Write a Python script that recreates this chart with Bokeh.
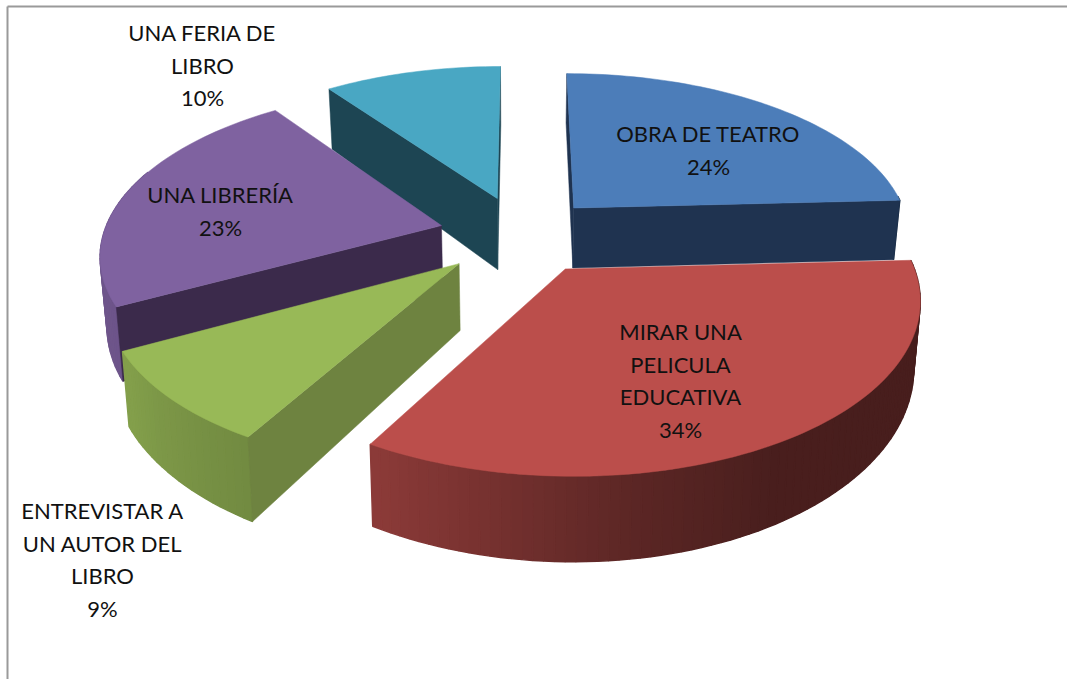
import numpy as np
from bokeh.plotting import figure
from bokeh.models import ColumnDataSource
from bokeh.core.properties import value
from bokeh.embed import file_html
from bokeh.resources import INLINE

# ---- data -----------------------------------------------------------------
categories = ["OBRA DE TEATRO", "MIRAR UNA PELICULA EDUCATIVA",
              "ENTREVISTAR A UN AUTOR DEL LIBRO", "UNA LIBRERÍA", "UNA FERIA DE LIBRO"]
label_lines = [["OBRA DE TEATRO"], ["MIRAR UNA", "PELICULA", "EDUCATIVA"],
               ["ENTREVISTAR A", "UN AUTOR DEL", "LIBRO"], ["UNA LIBRERÍA"], ["UNA FERIA DE", "LIBRO"]]
values = [24.2, 34.1, 8.9, 22.8, 10.0]

# ---- styles ---------------------------------------------------------------
top_colors = ["#4c7db9", "#bb4e4b", "#98b957", "#7f62a0", "#49a7c3"]
cut_colors = ["#1f3350", "#4a1c1a", "#6e8340", "#3b2a4b", "#1d4553"]
explode = [0.23, 0.24, 0.25, 0.245, 0.24]
depth_mult = [1.0, 0.99, 1.03, 1.08, 1.2]
label_pos = [(708, 133), (680, 331), (102, 510), (220, 194), (202, 32)]
draw_order = [4, 0, 3, 2, 1]

CX, CY, A, B, K = 521.0, 234.0, 163.0, 338.0, 0.156
DZ, KZ, CONV = 62.3, 0.231, 0.0165


def project(X, Y):
    d = 1 + K * Y
    return CX + B * X / d, CY - A * Y / d


def lower(X, Y, x, y, mult):
    """The same rim point at the bottom of the slab."""
    return x - (x - CX) * CONV, y + mult * DZ / (1 + KZ * Y)


def shade(hex_color, f):
    rgb = [int(hex_color[i:i + 2], 16) for i in (1, 3, 5)]
    return "#%02x%02x%02x" % tuple(int(round(c * f)) for c in rgb)


def clockwise(px, py):
    return sum(px[k] * py[(k + 1) % 4] - px[(k + 1) % 4] * py[k] for k in range(4)) > 0


total = sum(values)
edges = np.cumsum([0] + values) / total * 360.0

xs, ys, fills, widths = [], [], [], []


def add(px, py, color, w=0.5):
    xs.append(list(map(float, px)))
    ys.append(list(map(float, py)))
    fills.append(color)
    widths.append(w)


for i in draw_order:
    a0, a1 = edges[i], edges[i + 1]
    mid = np.radians((a0 + a1) / 2)
    ox, oy = explode[i] * np.sin(mid), explode[i] * np.cos(mid)
    th = np.radians(np.linspace(a0, a1, max(int((a1 - a0) / 1.5), 4) + 1))
    WX, WY = ox + np.sin(th), oy + np.cos(th)
    tx, ty = project(WX, WY)
    bx, by = lower(WX, WY, tx, ty, depth_mult[i])
    ax, ay = project(ox, oy)
    abx, aby = lower(ox, oy, ax, ay, depth_mult[i])
    # rim strips on the near side, shaded by direction of the light
    for j in range(len(th) - 1):
        deg = np.degrees((th[j] + th[j + 1]) / 2)
        if deg < 85 or deg > 290:
            continue
        f = np.interp(deg, [100, 150, 170, 190, 208, 240, 300], [.38, .39, .48, .62, .74, .86, .88])
        add([tx[j], tx[j + 1], bx[j + 1], bx[j]], [ty[j], ty[j + 1], by[j + 1], by[j]],
            shade(top_colors[i], f), 1.4)
    # the cut faces that look towards the viewer
    sx, sy = [ax, tx[0], bx[0], abx], [ay, ty[0], by[0], aby]
    ex, ey = [ax, tx[-1], bx[-1], abx], [ay, ty[-1], by[-1], aby]
    if not clockwise(sx, sy):
        add(sx, sy, cut_colors[i])
    if clockwise(ex, ey):
        add(ex, ey, cut_colors[i])
    # top face
    add([ax, *tx], [ay, *ty], top_colors[i])

p = figure(width=1067, height=679, x_range=(0, 1067), y_range=(679, 0),
           toolbar_location=None, output_backend="svg", min_border=0,
           background_fill_color="white",
           border_fill_color="white", outline_line_color=None)
p.axis.visible = False
p.grid.visible = False

p.patches("xs", "ys", source=ColumnDataSource(dict(xs=xs, ys=ys, c=fills, w=widths)),
          fill_color="c", line_color="c", line_width="w")

# frame of the chart area
p.line([7, 7], [6, 679], line_color="#9a9a9a", line_width=2)
p.line([7, 1067], [6, 6], line_color="#9a9a9a", line_width=2)

tx_, ty_, tt_ = [], [], []
for (cx, cy), lines, v in zip(label_pos, label_lines, values):
    for n, t in enumerate(lines + [f"{v:.0f}%"]):
        tx_.append(cx)
        ty_.append(cy + n * 32.6)
        tt_.append(t)
p.text("x", "y", text="t", source=ColumnDataSource(dict(x=tx_, y=ty_, t=tt_)),
       text_font=value("Lato"), text_font_size="22px", text_color="#111111",
       text_align="center", text_baseline="middle")

open("out.html", "w").write(file_html(p, INLINE))
